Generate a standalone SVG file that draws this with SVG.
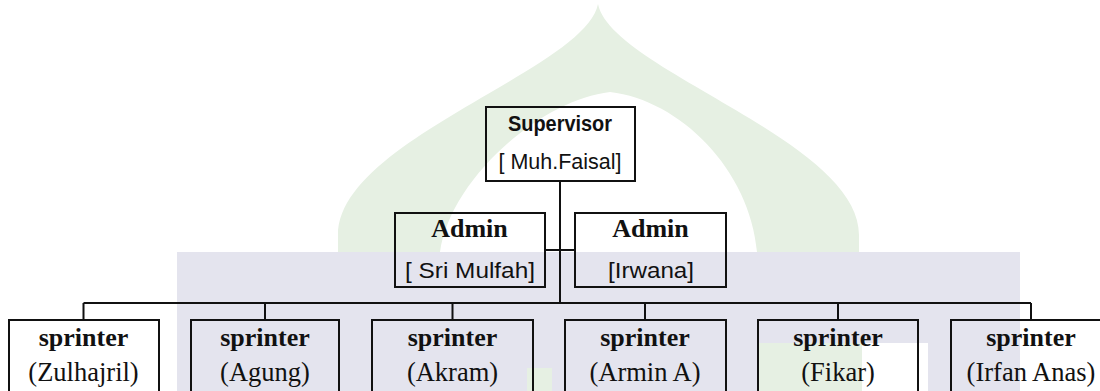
<svg xmlns="http://www.w3.org/2000/svg" width="1100" height="391" viewBox="0 0 1100 391">
<style>
.box{fill:none;stroke:#111;stroke-width:2}
.ln{fill:none;stroke:#111;stroke-width:2}
.tb{font-family:"Liberation Serif","Times New Roman",serif;font-weight:bold;font-size:26px;fill:#111;text-anchor:middle}
.tr{font-family:"Liberation Serif","Times New Roman",serif;font-size:26.5px;fill:#111;text-anchor:middle}
.sb{font-family:"Liberation Sans",Arial,sans-serif;font-weight:bold;font-size:22px;fill:#111;text-anchor:middle}
.sr{font-family:"Liberation Sans",Arial,sans-serif;font-size:22px;fill:#111;text-anchor:middle}
</style>
<rect width="1100" height="391" fill="#fff"/>
<g id="watermark">
<path fill="#e6f0e3" fill-rule="evenodd" d="M598,4 C585,70 338,140 338,235 L338,252 L859,252 L859,235 C859,140 611,70 598,4 Z M440,252 C450,180 540,100 610,92 C680,100 750,170 757,252 Z"/>
<rect x="177" y="252" width="843" height="139" fill="#e4e4ee"/>
<rect x="527" y="368" width="25" height="23" fill="#e6f0e3"/>
<rect x="757" y="343" width="105" height="48" fill="#e6f0e3"/>
<rect x="862" y="343" width="66" height="48" fill="#fff"/>
</g>
<g id="connectors">
<path class="ln" d="M560,181 V303 M545,250 H575 M83.5,303 H1031 M83.5,303 V319 M265,303 V319 M452.5,303 V319 M645,303 V319 M838,303 V319 M1031,303 V319"/>
</g>
<g id="supervisor">
<rect class="box" x="486" y="107" width="149" height="74"/>
<text class="sb" x="560" y="131" textLength="104" lengthAdjust="spacingAndGlyphs">Supervisor</text>
<text class="sr" x="560" y="169" textLength="123" lengthAdjust="spacingAndGlyphs">[ Muh.Faisal]</text>
</g>
<g id="admin1">
<rect class="box" x="395" y="213" width="150" height="74"/>
<text class="tb" x="469.5" y="237">Admin</text>
<text class="sr" x="470" y="277.5" textLength="130" lengthAdjust="spacingAndGlyphs">[ Sri Mulfah]</text>
</g>
<g id="admin2">
<rect class="box" x="575" y="213" width="151" height="74"/>
<text class="tb" x="650.5" y="237">Admin</text>
<text class="sr" x="651" y="277.5" textLength="86" lengthAdjust="spacingAndGlyphs">[Irwana]</text>
</g>
<g id="sprinter1">
<rect class="box" x="9" y="320" width="150" height="90"/>
<text class="tb" x="83.5" y="346">sprinter</text>
<text class="tr" x="83.5" y="381">(Zulhajril)</text>
</g>
<g id="sprinter2">
<rect class="box" x="191" y="320" width="148" height="90"/>
<text class="tb" x="265" y="346">sprinter</text>
<text class="tr" x="265" y="381">(Agung)</text>
</g>
<g id="sprinter3">
<rect class="box" x="372" y="320" width="161" height="90"/>
<text class="tb" x="452.5" y="346">sprinter</text>
<text class="tr" x="452.5" y="381">(Akram)</text>
</g>
<g id="sprinter4">
<rect class="box" x="565" y="320" width="161" height="90"/>
<text class="tb" x="645" y="346">sprinter</text>
<text class="tr" x="645" y="381">(Armin A)</text>
</g>
<g id="sprinter5">
<rect class="box" x="758" y="320" width="160" height="90"/>
<text class="tb" x="838" y="346">sprinter</text>
<text class="tr" x="838" y="381">(Fikar)</text>
</g>
<g id="sprinter6">
<rect class="box" x="951" y="320" width="160" height="90"/>
<text class="tb" x="1031" y="346">sprinter</text>
<text class="tr" x="1031" y="381">(Irfan Anas)</text>
</g>
</svg>
